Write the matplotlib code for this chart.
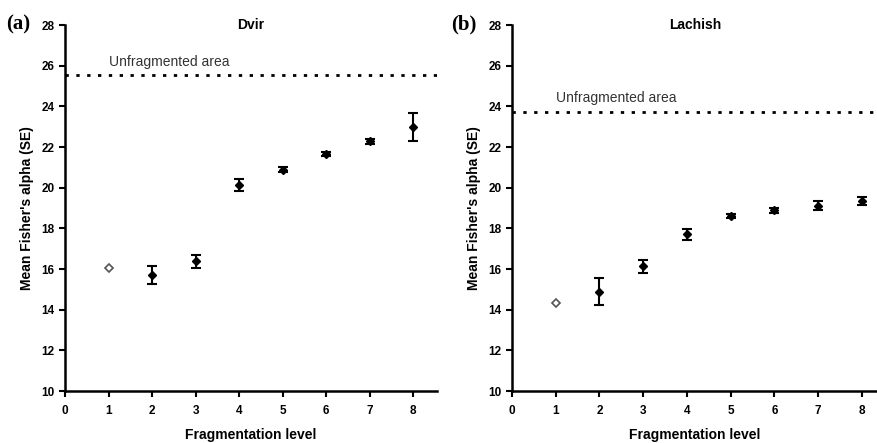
import matplotlib
matplotlib.use('Agg')
import matplotlib.pyplot as plt

plt.rcParams['font.family'] = ['Liberation Sans', 'DejaVu Sans']

# fragmentation levels
levels = [1, 2, 3, 4, 5, 6, 7, 8]

# Dvir
dvir_mean = [16.05, 15.71, 16.37, 20.15, 20.88, 21.65, 22.29, 22.98]
dvir_se = [0.0, 0.45, 0.33, 0.30, 0.12, 0.08, 0.12, 0.67]
dvir_unfrag = 25.56

# Lachish
lach_mean = [14.31, 14.88, 16.14, 17.70, 18.60, 18.88, 19.12, 19.35]
lach_se = [0.0, 0.67, 0.32, 0.28, 0.10, 0.12, 0.22, 0.18]
lach_unfrag = 23.71

yticks = [10, 12, 14, 16, 18, 20, 22, 24, 26, 28]
xticks = [0, 1, 2, 3, 4, 5, 6, 7, 8]

fig = plt.figure(figsize=(8.78, 4.43), dpi=100)
ax1 = fig.add_axes([65/878, 52/443, 372/878, 366/443])
ax2 = fig.add_axes([512/878, 52/443, 366/878, 366/443])


def draw(ax, mean, se, unfrag, title, xmax, label, label_x, text_y):
    ax.errorbar(levels[1:], mean[1:], yerr=se[1:], fmt='D', color='black',
                ms=3.8, elinewidth=1.5, capsize=3.5, capthick=1.5)
    ax.plot(levels[0], mean[0], 'D', ms=4.5, mfc='white', mec='#555555', mew=1.2)
    ax.axhline(unfrag, color='black', linestyle=(0, (1.2, 2.7)), linewidth=2)
    ax.text(1.0, text_y, 'Unfragmented area', fontsize=10, color='#333333', va='bottom')
    ax.set_xlim(0, xmax)
    ax.set_ylim(10, 28)
    ax.set_xticks(xticks)
    ax.set_yticks(yticks)
    for s in ['top', 'right']:
        ax.spines[s].set_visible(False)
    for s in ['left', 'bottom']:
        ax.spines[s].set_linewidth(1.8)
    ax.tick_params(direction='out', length=4, width=1.5, labelsize=8.5)
    ax.tick_params(axis='x', pad=6)
    for t in ax.get_xticklabels() + ax.get_yticklabels():
        t.set_fontweight('bold')
    ax.text(0.5, 1.0, title, transform=ax.transAxes, ha='center', va='center',
            fontsize=10, fontweight='bold')
    ax.set_xlabel('Fragmentation level', fontsize=10, fontweight='bold', labelpad=8)
    ax.set_ylabel("Mean Fisher's alpha (SE)", fontsize=10, fontweight='bold', labelpad=5)
    fig.text(label_x, 1 - 24/443, label, fontsize=15, fontweight='bold',
             family='Liberation Serif', va='center')


draw(ax1, dvir_mean, dvir_se, dvir_unfrag, 'Dvir', 8.55, '(a)', 6/878, 25.85)
draw(ax2, lach_mean, lach_se, lach_unfrag, 'Lachish', 8.37, '(b)', 451/878, 24.05)

fig.savefig('out.png', dpi=100)
